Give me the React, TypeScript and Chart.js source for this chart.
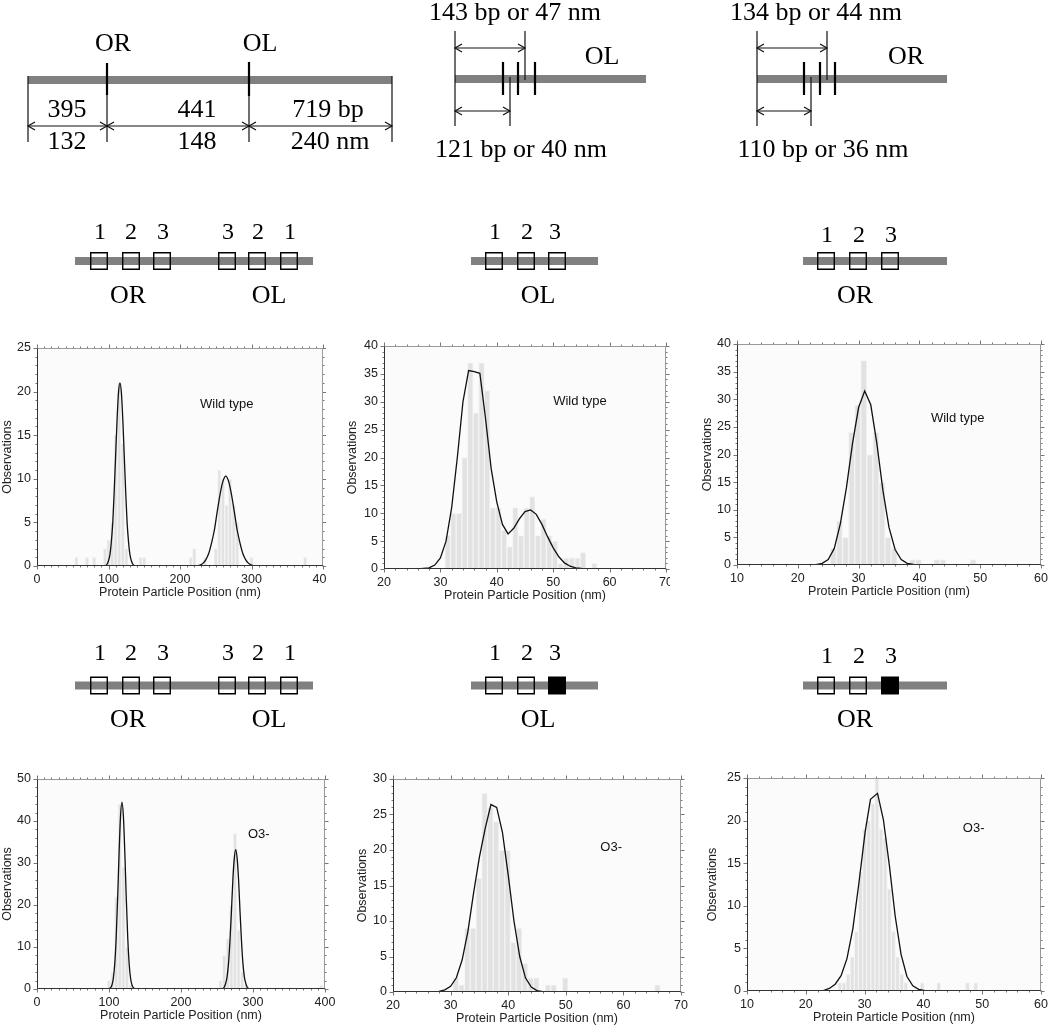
import React, { useEffect, useRef } from "react";
import { Chart, registerables } from "chart.js";

Chart.register(...registerables);

const SANS = '"Liberation Sans", Arial, Helvetica, sans-serif';
const SERIF = '"Liberation Serif", "Times New Roman", Times, serif';

// ---------------- Histogram data ----------------
// A: wild type, OR + OL DNA (5 nm bins, bin centres)
const wtDualPos = [55, 70, 80, 95, 100, 105, 110, 115, 120, 125, 145, 150, 215, 220, 235, 250, 255, 260, 265, 270, 275, 280, 300, 375];
const wtDualCounts = [1, 1, 1, 2, 3, 5, 15, 21, 14, 2, 1, 1, 1, 2, 1, 2, 11, 10, 7, 10, 7, 5, 1, 1];
const wtDualFit: [number, number][] = [
  [0, 0], [94, 0], [98, 0.2], [100, 0.6], [102, 1.3], [104, 2.8], [106, 5], [108, 8.6], [110, 12.7], [112, 16.8],
  [114, 19.9], [116, 21], [118, 19.9], [120, 16.8], [122, 12.7], [124, 8.6], [126, 5], [128, 2.8], [130, 1.3],
  [132, 0.6], [134, 0.2], [138, 0], [224, 0], [228, 0.1], [232, 0.3], [236, 0.7], [240, 1.4], [244, 2.6], [248, 4.1],
  [252, 6.2], [256, 8.2], [260, 9.7], [264, 10.3], [268, 9.7], [272, 8.2], [276, 6.2], [280, 4.1], [284, 2.6],
  [288, 1.4], [292, 0.7], [296, 0.3], [300, 0.1], [304, 0], [400, 0],
];

// B: wild type, OL DNA (1 nm bins)
const wtOLBinStart = 30.8;
const wtOLBinWidth = 1;
const wtOLCounts = [6, 10, 10, 20, 37, 28, 37, 32, 11, 11, 7, 4, 11, 6, 11, 13, 6, 9, 6, 5, 1, 2, 2, 2, 3, 0, 1];
const wtOLFit: [number, number][] = [
  [20, 0], [26, 0], [28, 0.2], [29, 0.7], [30, 2], [31, 5], [32, 11], [33, 20], [34, 30], [35, 35.6], [36, 35.4],
  [37, 35.1], [38, 27], [39, 18], [40, 12], [41, 8], [42, 6.3], [43, 7.3], [44, 9], [45, 10.3], [46, 10.6], [47, 9.8],
  [48, 8], [49, 5.8], [50, 3.8], [51, 2.2], [52, 1.1], [53, 0.5], [54, 0.2], [55, 0.1], [57, 0], [70, 0],
];

// C: wild type, OR DNA (1 nm bins)
const wtORBinStart = 25.35;
const wtORBinWidth = 1;
const wtORCounts = [3, 8, 5, 24, 29, 37, 20, 24, 15, 5, 3, 0, 0, 1, 1, 0, 0, 1, 1, 0, 0, 0, 0, 1];
const wtORFit: [number, number][] = [
  [10, 0], [22, 0], [23, 0.05], [24, 0.3], [25, 1], [26, 3], [27, 7.5], [28, 14], [29, 22], [30, 28.5], [31, 31.5],
  [32, 29], [33, 22], [34, 13.5], [35, 6.8], [36, 2.8], [37, 1], [38, 0.3], [39, 0.1], [40, 0], [60, 0],
];

// D: O3- mutant, OR + OL DNA (5 nm bins, bin centres)
const mutDualPos = [100, 105, 110, 115, 120, 125, 130, 255, 260, 265, 270, 275, 280, 285, 290, 395];
const mutDualCounts = [2, 4, 22, 44, 29, 10, 1, 2, 8, 12, 20, 37, 14, 4, 1, 1];
const mutDualFit: [number, number][] = [
  [0, 0], [96, 0], [100, 0.07], [102, 0.27], [104, 0.88], [106, 2.5], [108, 6], [110, 12.3], [112, 21.6], [114, 32.3],
  [116, 41.1], [118, 44.5], [120, 41.1], [122, 32.3], [124, 21.6], [126, 12.3], [128, 6], [130, 2.5], [132, 0.88],
  [134, 0.27], [136, 0.07], [140, 0], [254, 0], [258, 0.12], [260, 0.41], [262, 1.3], [264, 2.9], [266, 6.1],
  [268, 11.5], [270, 18.3], [272, 25.9], [274, 31.1], [276, 33.2], [278, 31.1], [280, 25.9], [282, 18.3], [284, 11.5],
  [286, 6.1], [288, 2.9], [290, 1.3], [292, 0.41], [294, 0.12], [298, 0], [400, 0],
];

// E: O3- mutant, OL DNA (1 nm bins)
const mutOLBinStart = 30.4;
const mutOLBinWidth = 1;
const mutOLCounts = [2, 1, 9, 9, 16, 28, 26, 24, 20, 20, 7, 9, 4, 2, 2, 0, 1, 1, 0, 2, 0, 0, 0, 0, 0, 0, 0, 0, 0, 0, 0, 0, 0, 0, 0, 1];
const mutOLFit: [number, number][] = [
  [20, 0], [27, 0], [28, 0.1], [29, 0.3], [30, 0.8], [31, 2], [32, 4.5], [33, 8.5], [34, 14], [35, 19], [36, 23],
  [37, 26.4], [38, 26], [39, 22.5], [40, 16.5], [41, 10], [42, 5], [43, 2], [44, 0.7], [45, 0.2], [46, 0.05], [48, 0], [70, 0],
];

// F: O3- mutant, OR DNA (0.7 nm bins)
const mutORBinStart = 25.45;
const mutORBinWidth = 0.7;
const mutORCounts = [1, 1, 2, 4, 7, 14, 19, 20, 22, 25, 19, 18, 12, 7, 4, 2, 1, 0, 0, 0, 1, 0, 0, 0, 1, 0, 0, 0, 0, 0, 0, 1, 0, 1];
const mutORFit: [number, number][] = [
  [10, 0], [22, 0], [23, 0.05], [24, 0.3], [25, 0.8], [26, 1.8], [27, 3.8], [28, 7.3], [29, 12.5], [30.1, 18.7],
  [31, 22.5], [32.2, 23.2], [33.2, 20.1], [34.2, 14.8], [35.2, 8.8], [36.2, 4.3], [37.2, 1.7], [38.2, 0.6],
  [39.2, 0.2], [40.5, 0], [60, 0],
];

const binCentres = (start: number, width: number, n: number) =>
  Array.from({ length: n }, (_, i) => start + width * (i + 0.5));

// ---------------- Diagram geometry (page units) ----------------
const MAP_BARS: number[][] = [
  [28, 392, 80], [455, 646, 79], [757, 947, 79],
  [75, 313, 261], [471, 598, 261], [803, 947, 261],
  [75, 313, 685.5], [471, 598, 685.5], [803, 947, 685.5],
];
const GUIDE_LINES: number[][] = [
  [28, 76, 142], [392, 76, 142], [107, 63, 142], [249, 62, 142],
  [455, 31, 126], [525, 31, 80], [510, 77, 126],
  [757, 31, 126], [827, 31, 80], [811, 77, 126],
];
const OPERATOR_TICKS: number[][] = [
  [107, 63, 95], [249, 62, 96],
  [503, 62, 95], [518, 62, 95], [535, 62, 95],
  [804, 62, 95], [820, 62, 95], [835, 62, 95],
];
const ARROWS: number[][] = [
  [28, 107, 126], [107, 249, 126], [249, 392, 126],
  [455, 525, 48], [455, 510, 111], [757, 827, 48], [757, 811, 111],
];
const SITE_X = [99, 131, 162, 227, 257, 289, 494, 526, 557, 826, 858, 890];
const SITE_ROW_Y = [261, 685.5];
const SITE_MUTATED = [false, false, false, false, false, false, false, false, true, false, false, true];
const SITE_NUMBERS = ["1", "2", "3", "3", "2", "1", "1", "2", "3", "1", "2", "3"];
const SITE_NUM_X = [100, 131, 163, 228, 258, 290, 495, 527, 555, 827, 859, 891];
const SITE_NUM_Y = [[233, 236], [654, 657]];
const GROUP_LABELS: [string, number][] = [["OR", 128], ["OL", 269], ["OL", 538], ["OR", 855]];
const GROUP_LABEL_Y = [296, 720];
const MAP_TEXT: [string, number, number][] = [
  ["OR", 113, 44], ["OL", 260, 44],
  ["395", 67, 110], ["441", 197, 110], ["719 bp", 328, 110],
  ["132", 67, 142], ["148", 197, 142], ["240 nm", 330, 142],
  ["143 bp or 47 nm", 515, 13], ["OL", 602, 57], ["121 bp or 40 nm", 521, 150],
  ["134 bp or 44 nm", 816, 13], ["OR", 906, 57], ["110 bp or 36 nm", 823, 150],
];

type Pt = { x: number; y: number };
const P = (x: number, y: number): Pt => ({ x, y });

function seg(points: Pt[], color: string, width: number, order: number) {
  return {
    data: points, showLine: true, borderColor: color, borderWidth: width, pointRadius: 0,
    borderCapStyle: "butt", borderJoinStyle: "miter", fill: false, tension: 0, order,
  };
}

const diagramTextPlugin = {
  id: "diagramText",
  afterDatasetsDraw(chart: any) {
    const { ctx, scales } = chart;
    const sx = (v: number) => scales.x.getPixelForValue(v);
    const sy = (v: number) => scales.y.getPixelForValue(v);
    ctx.save();
    ctx.fillStyle = "#000";
    ctx.textAlign = "center";
    ctx.textBaseline = "middle";
    ctx.font = `26px ${SERIF}`;
    MAP_TEXT.forEach(([t, x, y]) => ctx.fillText(t, sx(x), sy(y)));
    SITE_ROW_Y.forEach((_, r) => {
      GROUP_LABELS.forEach(([t, x]) => ctx.fillText(t, sx(x), sy(GROUP_LABEL_Y[r])));
    });
    ctx.font = `24px ${SERIF}`;
    SITE_ROW_Y.forEach((_, r) => {
      SITE_NUMBERS.forEach((t, i) => ctx.fillText(t, sx(SITE_NUM_X[i]), sy(SITE_NUM_Y[r][i >= 9 ? 1 : 0])));
    });
    ctx.restore();
  },
};

function diagramConfig(): any {
  const ds: any[] = [];
  MAP_BARS.forEach(([x1, x2, y]) => ds.push(seg([P(x1, y), P(x2, y)], "#808080", 8, 3)));
  GUIDE_LINES.forEach(([x, y1, y2]) => ds.push(seg([P(x, y1), P(x, y2)], "#111", 1.2, 2)));
  OPERATOR_TICKS.forEach(([x, y1, y2]) => ds.push(seg([P(x, y1), P(x, y2)], "#000", 2.2, 1)));
  ARROWS.forEach(([x1, x2, y]) => {
    ds.push(seg([P(x1, y), P(x2, y)], "#111", 1.2, 1));
    ds.push(seg([P(x1 + 7, y - 4), P(x1, y), P(x1 + 7, y + 4)], "#111", 1.2, 1));
    ds.push(seg([P(x2 - 7, y - 4), P(x2, y), P(x2 - 7, y + 4)], "#111", 1.2, 1));
  });
  const open: Pt[] = [];
  const filled: Pt[] = [];
  SITE_ROW_Y.forEach((y, r) =>
    SITE_X.forEach((x, i) => (r === 1 && SITE_MUTATED[i] ? filled : open).push(P(x, y)))
  );
  ds.push({ data: open, pointStyle: "rect", pointRadius: 11.7, borderColor: "#000", borderWidth: 1.4, backgroundColor: "rgba(0,0,0,0)", order: 0 });
  ds.push({ data: filled, pointStyle: "rect", pointRadius: 11.7, borderColor: "#000", borderWidth: 1.4, backgroundColor: "#000", order: 0 });
  return {
    type: "scatter",
    data: { datasets: ds },
    options: {
      responsive: false, animation: false, events: [],
      layout: { padding: 0, autoPadding: false },
      plugins: { legend: { display: false }, tooltip: { enabled: false } },
      scales: {
        x: { type: "linear", min: 0, max: 1050, display: false },
        y: { type: "linear", min: 0, max: 740, reverse: true, display: false },
      },
    },
    plugins: [diagramTextPlugin],
  };
}

// ---------------- Histogram panels ----------------
type Panel = {
  id: string; box: { x: number; y: number; w: number; h: number };
  padTop: number; padRight: number; yAxisW: number; xAxisH: number;
  xMin: number; xMax: number; xStep: number; xMinor: number;
  yMax: number; yStep: number; yMinor: number;
  centres: number[]; counts: number[]; fit: [number, number][]; smooth: boolean;
  label: string; labelAt: [number, number];
};

const PANELS: Panel[] = [
  { id: "A", box: { x: 0, y: 336, w: 326, h: 264 }, padTop: 12, padRight: 3, yAxisW: 37, xAxisH: 34,
    xMin: 0, xMax: 400, xStep: 100, xMinor: 10, yMax: 25, yStep: 5, yMinor: 1,
    centres: wtDualPos, counts: wtDualCounts, fit: wtDualFit, smooth: true, label: "Wild type", labelAt: [228, 18.5] },
  { id: "B", box: { x: 345, y: 334, w: 325, h: 269 }, padTop: 12, padRight: 4, yAxisW: 39, xAxisH: 34,
    xMin: 20, xMax: 70, xStep: 10, xMinor: 2, yMax: 40, yStep: 5, yMinor: 1,
    centres: binCentres(wtOLBinStart, wtOLBinWidth, wtOLCounts.length), counts: wtOLCounts, fit: wtOLFit, smooth: false,
    label: "Wild type", labelAt: [50, 30] },
  { id: "C", box: { x: 700, y: 332, w: 350, h: 267 }, padTop: 12, padRight: 9, yAxisW: 37, xAxisH: 34,
    xMin: 10, xMax: 60, xStep: 10, xMinor: 2, yMax: 40, yStep: 5, yMinor: 1,
    centres: binCentres(wtORBinStart, wtORBinWidth, wtORCounts.length), counts: wtORCounts, fit: wtORFit, smooth: false,
    label: "Wild type", labelAt: [41.9, 26.6] },
  { id: "D", box: { x: 0, y: 767, w: 345, h: 256 }, padTop: 12, padRight: 20, yAxisW: 37, xAxisH: 34,
    xMin: 0, xMax: 400, xStep: 100, xMinor: 10, yMax: 50, yStep: 10, yMinor: 2,
    centres: mutDualPos, counts: mutDualCounts, fit: mutDualFit, smooth: true, label: "O3-", labelAt: [293, 36.7] },
  { id: "E", box: { x: 355, y: 767, w: 346, h: 259 }, padTop: 12, padRight: 20, yAxisW: 38, xAxisH: 34,
    xMin: 20, xMax: 70, xStep: 10, xMinor: 2, yMax: 30, yStep: 5, yMinor: 1,
    centres: binCentres(mutOLBinStart, mutOLBinWidth, mutOLCounts.length), counts: mutOLCounts, fit: mutOLFit, smooth: false,
    label: "O3-", labelAt: [56, 20.3] },
  { id: "F", box: { x: 705, y: 766, w: 345, h: 259 }, padTop: 12, padRight: 9, yAxisW: 42, xAxisH: 34,
    xMin: 10, xMax: 60, xStep: 10, xMinor: 2, yMax: 25, yStep: 5, yMinor: 1,
    centres: binCentres(mutORBinStart, mutORBinWidth, mutORCounts.length), counts: mutORCounts, fit: mutORFit, smooth: false,
    label: "O3-", labelAt: [46.7, 19.1] },
];

const framePlugin = {
  id: "frame",
  beforeDatasetsDraw(chart: any) {
    const { ctx, chartArea: a } = chart;
    ctx.save();
    ctx.fillStyle = "#fbfbfb";
    ctx.fillRect(a.left, a.top, a.right - a.left, a.bottom - a.top);
    ctx.restore();
  },
  afterDatasetsDraw(chart: any, _args: any, o: any) {
    const { ctx, chartArea: a, scales } = chart;
    const xs = scales.x;
    const ys = scales.y;
    const L = Math.round(a.left) + 0.5;
    const R = Math.round(a.right) - 0.5;
    const T = Math.round(a.top) + 0.5;
    const B = Math.round(a.bottom) - 0.5;
    ctx.save();
    ctx.lineWidth = 1;
    ctx.strokeStyle = "#777";
    ctx.beginPath();
    const nx = Math.round((xs.max - xs.min) / o.xMinor);
    const xPer = Math.round(o.xStep / o.xMinor);
    for (let i = 0; i <= nx; i++) {
      const px = Math.round(xs.getPixelForValue(xs.min + i * o.xMinor)) + 0.5;
      const len = i % xPer === 0 ? 4 : 2;
      ctx.moveTo(px, B); ctx.lineTo(px, B + len);
      ctx.moveTo(px, T); ctx.lineTo(px, T - len);
    }
    const ny = Math.round((ys.max - ys.min) / o.yMinor);
    const yPer = Math.round(o.yStep / o.yMinor);
    for (let i = 0; i <= ny; i++) {
      const py = Math.round(ys.getPixelForValue(ys.min + i * o.yMinor)) + 0.5;
      const len = i % yPer === 0 ? 4 : 2;
      ctx.moveTo(L, py); ctx.lineTo(L - len, py);
      ctx.moveTo(R, py); ctx.lineTo(R + len, py);
    }
    ctx.stroke();
    ctx.strokeStyle = "#999";
    ctx.beginPath();
    ctx.moveTo(L, T); ctx.lineTo(R, T); ctx.lineTo(R, B);
    ctx.stroke();
    ctx.strokeStyle = "#333";
    ctx.beginPath();
    ctx.moveTo(L, T); ctx.lineTo(L, B); ctx.lineTo(R, B);
    ctx.stroke();
    ctx.fillStyle = "#111";
    ctx.font = `13px ${SANS}`;
    ctx.textAlign = "left";
    ctx.textBaseline = "middle";
    ctx.fillText(o.label, xs.getPixelForValue(o.labelAt[0]), ys.getPixelForValue(o.labelAt[1]));
    ctx.restore();
  },
};

function histConfig(p: Panel): any {
  const bars = p.centres.map((x, i) => ({ x, y: p.counts[i] })).filter((d) => d.y > 0);
  const curve = p.fit.map(([x, y]) => ({ x, y }));
  const tickFont = { family: SANS, size: 12.5 };
  const titleFont = { family: SANS, size: 12.5 };
  return {
    type: "bar",
    data: {
      datasets: [
        {
          type: "line", data: curve, borderColor: "#111", borderWidth: 1.3, pointRadius: 0, fill: false,
          tension: p.smooth ? 0.4 : 0, cubicInterpolationMode: p.smooth ? "monotone" : "default", order: 0,
        },
        {
          type: "bar", data: bars, backgroundColor: "#e2e2e2", borderColor: "#f4f4f4", borderWidth: 1,
          barPercentage: 1, categoryPercentage: 1, order: 1,
        },
      ],
    },
    options: {
      responsive: false, animation: false, events: [],
      layout: { padding: { left: 0, top: p.padTop, right: p.padRight, bottom: 0 }, autoPadding: false },
      plugins: {
        legend: { display: false }, tooltip: { enabled: false },
        frame: { xStep: p.xStep, xMinor: p.xMinor, yStep: p.yStep, yMinor: p.yMinor, label: p.label, labelAt: p.labelAt },
      },
      scales: {
        x: {
          type: "linear", position: "bottom", min: p.xMin, max: p.xMax, offset: false,
          grid: { display: false, drawTicks: false }, border: { display: false },
          ticks: { stepSize: p.xStep, font: tickFont, color: "#222", padding: 6, maxRotation: 0, minRotation: 0, autoSkip: false },
          title: { display: true, text: "Protein Particle Position (nm)", font: titleFont, color: "#222", padding: 0 },
          afterFit: (s: any) => { s.height = p.xAxisH; s.paddingLeft = 0; s.paddingRight = 0; },
        },
        y: {
          type: "linear", position: "left", min: 0, max: p.yMax,
          grid: { display: false, drawTicks: false }, border: { display: false },
          ticks: { stepSize: p.yStep, font: tickFont, color: "#222", padding: 6 },
          title: { display: true, text: "Observations", font: titleFont, color: "#222", padding: 0 },
          afterFit: (s: any) => { s.width = p.yAxisW; s.paddingTop = 0; s.paddingBottom = 0; },
        },
      },
    },
    plugins: [framePlugin],
  };
}

function ChartCanvas({ box, make }: { box: { x: number; y: number; w: number; h: number }; make: () => any }) {
  const ref = useRef<HTMLCanvasElement>(null);
  useEffect(() => {
    const chart = new Chart(ref.current as HTMLCanvasElement, make());
    return () => chart.destroy();
  }, []);
  return (
    <canvas
      ref={ref}
      width={box.w}
      height={box.h}
      style={{ position: "absolute", left: box.x, top: box.y, width: box.w, height: box.h }}
    />
  );
}

export default function App() {
  return (
    <div style={{ position: "absolute", left: 0, top: 0, width: 1050, height: 1031, background: "#fff", overflow: "hidden" }}>
      <ChartCanvas box={{ x: 0, y: 0, w: 1050, h: 740 }} make={diagramConfig} />
      {PANELS.map((p) => (
        <ChartCanvas key={p.id} box={p.box} make={() => histConfig(p)} />
      ))}
    </div>
  );
}
